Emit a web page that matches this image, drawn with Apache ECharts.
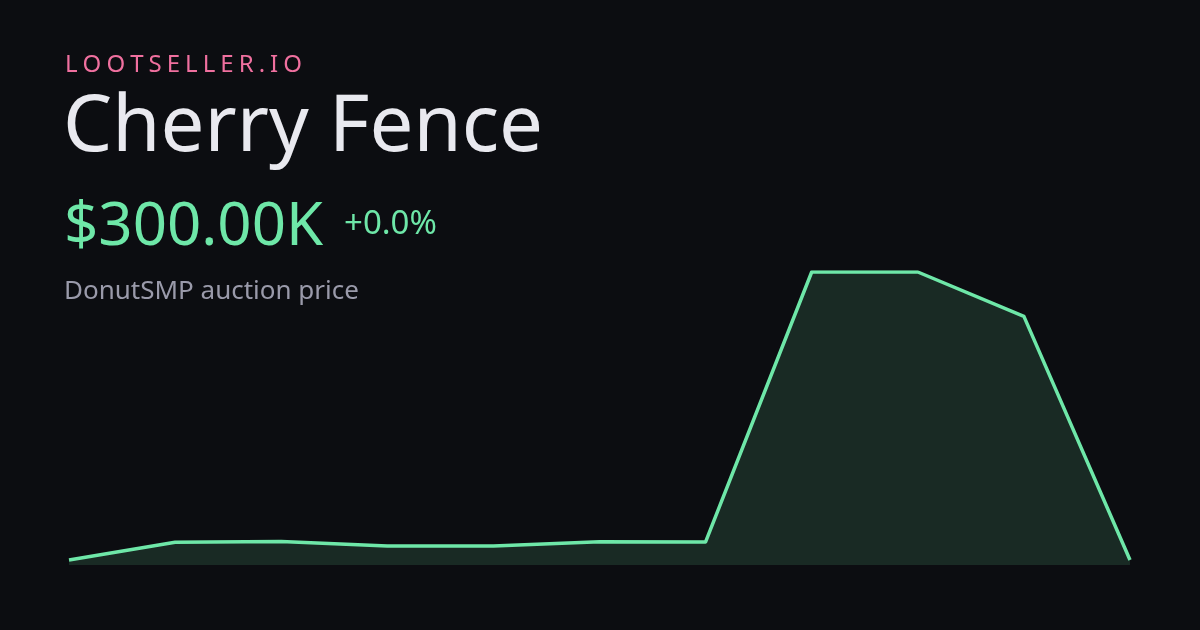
<!DOCTYPE html>
<html><head><meta charset="utf-8">
<script src="https://cdn.jsdelivr.net/npm/echarts@6/dist/echarts.min.js"></script>
<style>html,body{margin:0;padding:0;background:#0c0d11;}#c{width:1200px;height:630px;}</style>
</head><body><div id="c"></div>
<script>
const brand = 'LOOTSELLER.IO';
const itemName = 'Cherry Fence';
const priceLabel = '$300.00K';
const changeLabel = '+0.0%';
const subtitle = 'DonutSMP auction price';
const categories = ['1','2','3','4','5','6','7','8','9','10','11'];
const prices = [300, 374, 377, 358, 358, 376, 375, 1500, 1500, 1315, 300];

const FONT = '"Noto Sans", "Open Sans", sans-serif';
const chart = echarts.init(document.getElementById('c'), null, {renderer:'canvas'});

// letter-spaced brand text (each glyph is a real text element)
const mctx = document.createElement('canvas').getContext('2d');
const brandSize = 24;
mctx.font = brandSize + 'px "Noto Sans"';
const chars = brand.split('');
const widths = chars.map(ch => mctx.measureText(ch).width);
const natural = widths.reduce((a,b)=>a+b,0);
const targetSpan = 302 - 65;
const spacing = (targetSpan - natural) / (chars.length - 1);
const brandEls = [];
let bx = 65;
chars.forEach((ch, i) => {
  brandEls.push({type:'text', left: bx, top: 53, style:{text: ch, fill:'#f0709f', font: brandSize + 'px ' + FONT}});
  bx += widths[i] + spacing;
});

chart.setOption({
  backgroundColor: '#0c0d11',
  animation: false,
  grid: {left: 69, right: 70, top: 272, bottom: 65},
  xAxis: {type:'category', data: categories, boundaryGap:false, show:false},
  yAxis: {type:'value', min: 279, max: 1500, show:false},
  series: [{
    type:'line', data: prices, symbol:'none',
    lineStyle:{color:'#6ee7a8', width:3.5, join:'round'},
    areaStyle:{color:'rgba(110,231,168,0.19)'}
  }],
  graphic: brandEls.concat([
    {type:'text', left: 63, top: 90, style:{text: itemName, fill:'#e9e9ef', font: '78px ' + FONT}},
    {type:'text', left: 64, top: 198, style:{text: priceLabel, fill:'#6ee7a8', font: '60px ' + FONT}},
    {type:'text', left: 344, top: 208, style:{text: changeLabel, fill:'#6ee7a8', font: '33px ' + FONT}},
    {type:'text', left: 64, top: 279, style:{text: subtitle, fill:'#9a9aaa', font: '26px ' + FONT}}
  ])
});
</script></body></html>
